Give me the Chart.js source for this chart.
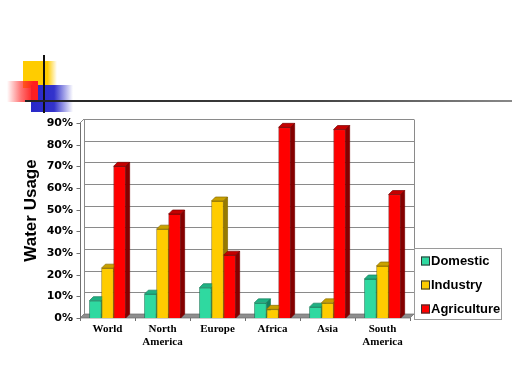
<!DOCTYPE html>
<html><head><meta charset="utf-8">
<script src="https://cdn.jsdelivr.net/npm/chart.js@4"></script>
<style>
html,body{margin:0;padding:0;background:#fff;}
#wrap{position:relative;width:512px;height:384px;overflow:hidden;background:#fff;}
canvas{position:absolute;left:0;top:0;}
.d{position:absolute;}
</style></head><body>
<div id="wrap">
<div class="d" style="left:23px;top:61px;width:34px;height:27px;background:linear-gradient(to right,#FFCC00 0%,#FFCC00 72%,rgba(255,204,0,0) 100%)"></div>
<div class="d" style="left:31px;top:85px;width:42px;height:27px;background:linear-gradient(to right,#2828C8 0%,#3333CC 55%,rgba(51,51,204,0) 100%)"></div>
<div class="d" style="left:7px;top:81px;width:31px;height:21px;background:linear-gradient(to right,rgba(255,60,60,0) 0%,rgba(255,40,40,0.65) 45%,#FF1E1E 85%)"></div>
<div class="d" style="left:43px;top:55px;width:2px;height:58px;background:#111"></div>
<div class="d" style="left:25px;top:100px;width:487px;height:2px;background:linear-gradient(to right,#222,#444 60%,#888)"></div>
<canvas id="c" width="512" height="384"></canvas>
</div>
<script>
// ---- data ----
const categories = ['World', ['North', 'America'], 'Europe', 'Africa', 'Asia', ['South', 'America']];
const seriesNames = ['Domestic', 'Industry', 'Agriculture'];
const domestic    = [8, 11, 14, 7, 5, 18];
const industry    = [23, 41, 54, 4, 7, 24];
const agriculture = [70, 48, 29, 88, 87, 57];
const yMin = 0, yMax = 90, yStep = 10;
const yTitle = 'Water Usage';

// ---- styles ----
const frontColors = ['#2FD9A0', '#FFCC00', '#FF0000'];
const borderColors = ['#17805C', '#8A6E00', '#7A0000'];
const topColors = ['#1FB083', '#C9A100', '#C40000'];
const sideColors = ['#14805E', '#977A00', '#850000'];
const DX = 4, DY = 4;

function poly(ctx, pts, fill, stroke) {
  ctx.beginPath();
  ctx.moveTo(pts[0][0], pts[0][1]);
  for (let i = 1; i < pts.length; i++) ctx.lineTo(pts[i][0], pts[i][1]);
  ctx.closePath();
  ctx.fillStyle = fill; ctx.fill();
  if (stroke) { ctx.strokeStyle = stroke; ctx.lineWidth = 0.7; ctx.stroke(); }
}

const threeD = {
  id: 'threeD',
  beforeDatasetsDraw(chart) {
    const ctx = chart.ctx, a = chart.chartArea, y = chart.scales.y, x = chart.scales.x;
    ctx.save();
    // floor
    poly(ctx, [[a.left, a.bottom], [a.right, a.bottom], [a.right + DX, a.bottom - DY], [a.left + DX, a.bottom - DY]], '#8E8E8E', '#6A6A6A');
    ctx.strokeStyle = '#8A8A8A'; ctx.lineWidth = 1;
    // back wall gridlines
    y.ticks.forEach(t => {
      const py = Math.round(y.getPixelForValue(t.value) - DY) + 0.5;
      if (t.value === yMin) return;
      ctx.beginPath(); ctx.moveTo(a.left + DX, py); ctx.lineTo(a.right + DX, py); ctx.stroke();
    });
    // back wall verticals
    const bt = Math.round(a.top - DY) + 0.5;
    ctx.beginPath();
    ctx.moveTo(Math.round(a.left + DX) + 0.5, bt); ctx.lineTo(Math.round(a.left + DX) + 0.5, a.bottom - DY);
    ctx.moveTo(Math.round(a.right + DX) + 0.5, bt); ctx.lineTo(Math.round(a.right + DX) + 0.5, a.bottom - DY);
    ctx.stroke();
    // side wall top edge
    ctx.beginPath(); ctx.moveTo(a.left, a.top); ctx.lineTo(a.left + DX, a.top - DY); ctx.stroke();
    // front axis + ticks
    ctx.strokeStyle = '#707070';
    const ax = Math.round(a.left) + 0.5;
    ctx.beginPath(); ctx.moveTo(ax, a.top); ctx.lineTo(ax, a.bottom + 1); ctx.stroke();
    y.ticks.forEach(t => {
      const py = Math.round(y.getPixelForValue(t.value)) + 0.5;
      ctx.beginPath(); ctx.moveTo(ax - 4, py); ctx.lineTo(ax, py); ctx.stroke();
    });
    // category separators on floor edge
    for (let i = 0; i <= categories.length; i++) {
      const px = Math.round(x.getPixelForValue(i - 0.5)) + 0.5;
      ctx.beginPath(); ctx.moveTo(px, a.bottom); ctx.lineTo(px, a.bottom + 3); ctx.stroke();
    }
    ctx.restore();
  },
  afterDatasetsDraw(chart) {
    const ctx = chart.ctx;
    // redraw each series left-to-right so each front face hides the side face of its left neighbour
    chart.data.datasets.forEach((ds, idx) => {
      const meta = chart.getDatasetMeta(idx);
      meta.data.forEach(bar => {
        ctx.save();
        bar.draw(ctx);
        ctx.restore();
        ctx.save();
        const p = bar.getProps(['x', 'y', 'base', 'width'], true);
        const l = p.x - p.width / 2, r = p.x + p.width / 2;
        poly(ctx, [[l, p.y], [l + DX, p.y - DY], [r + DX, p.y - DY], [r, p.y]], topColors[idx], borderColors[idx]);
        poly(ctx, [[r, p.y], [r + DX, p.y - DY], [r + DX, p.base - DY], [r, p.base]], sideColors[idx], borderColors[idx]);
        ctx.restore();
      });
    });
  },
  afterDraw(chart) {
    const ctx = chart.ctx;
    ctx.save();
    // y axis title
    ctx.translate(35.5, 210.5);
    ctx.rotate(-Math.PI / 2);
    ctx.font = 'bold 17px "Liberation Sans", Arial, sans-serif';
    ctx.fillStyle = '#000';
    ctx.textAlign = 'center';
    ctx.textBaseline = 'alphabetic';
    ctx.fillText(yTitle, 0, 0);
    ctx.restore();
    // legend
    ctx.save();
    ctx.strokeStyle = '#9A9A9A'; ctx.lineWidth = 1;
    ctx.strokeRect(414.5, 248.5, 87, 71);
    ctx.font = 'bold 13px "Liberation Sans", Arial, sans-serif';
    ctx.textBaseline = 'middle'; ctx.textAlign = 'left';
    chart.data.datasets.forEach((ds, i) => {
      const cy = 261 + i * 24;
      ctx.fillStyle = ds.backgroundColor;
      ctx.fillRect(421, cy - 4.5, 9, 9);
      ctx.strokeStyle = '#333'; ctx.strokeRect(421.5, cy - 4, 8, 8);
      ctx.fillStyle = '#000';
      ctx.fillText(ds.label, 431, cy + 0.5);
    });
    ctx.restore();
  }
};

const datasets = [domestic, industry, agriculture].map((vals, i) => ({
  label: seriesNames[i],
  data: vals,
  backgroundColor: frontColors[i],
  borderColor: borderColors[i],
  borderWidth: 0.8,
  categoryPercentage: 0.66,
  barPercentage: 1.0
}));

new Chart(document.getElementById('c'), {
  type: 'bar',
  data: { labels: categories, datasets },
  plugins: [threeD],
  options: {
    responsive: false,
    animation: false,
    devicePixelRatio: 1,
    layout: { padding: { left: 0, right: 102, top: 123, bottom: 0 } },
    plugins: { legend: { display: false }, tooltip: { enabled: false } },
    scales: {
      x: {
        grid: { display: false, drawTicks: false },
        border: { display: false },
        ticks: {
          color: '#000', padding: 4, autoSkip: false, maxRotation: 0,
          font: { family: '"Liberation Serif", "Times New Roman", serif', weight: 'bold', size: 11, lineHeight: 1.25 }
        },
        afterFit(s) { s.height = 66; }
      },
      y: {
        min: yMin, max: yMax,
        grid: { display: false, drawTicks: false },
        border: { display: false },
        ticks: {
          stepSize: yStep, color: '#000', padding: 7,
          font: { family: '"DejaVu Sans", Verdana, sans-serif', weight: 'bold', size: 11 },
          callback: v => v + '%'
        },
        afterFit(s) { s.width = 80; }
      }
    }
  }
});
</script>
</body></html>
